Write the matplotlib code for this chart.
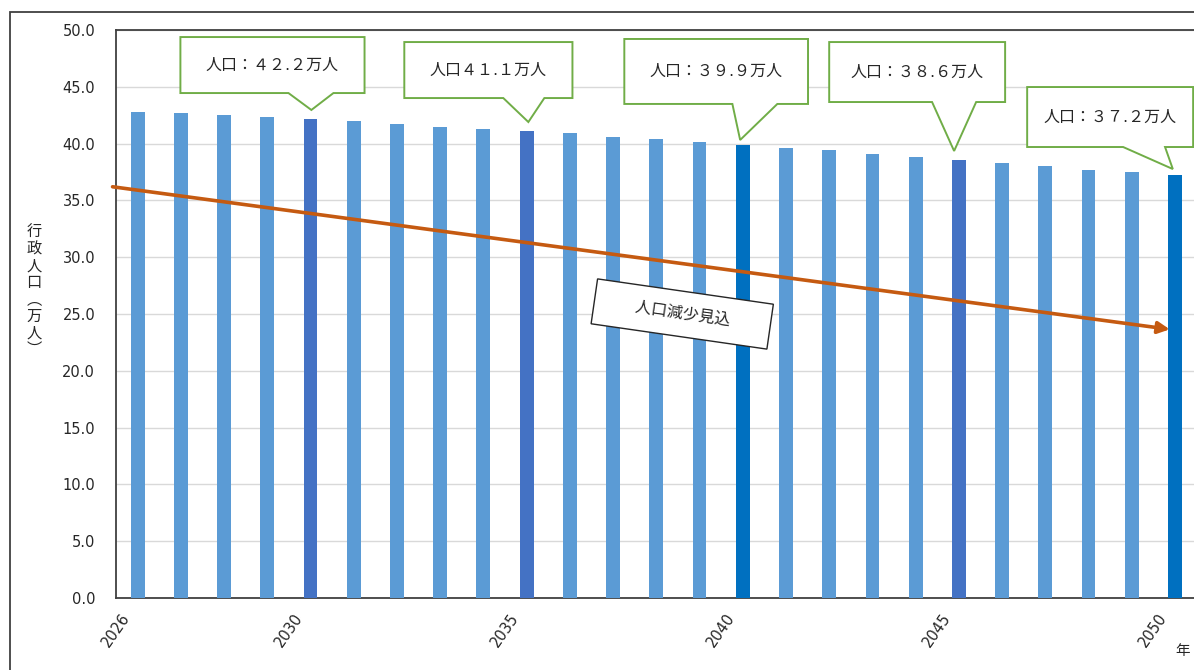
import matplotlib
matplotlib.use("Agg")
import numpy as np
import matplotlib.pyplot as plt
from matplotlib.patches import Polygon, Rectangle
from matplotlib.transforms import ScaledTranslation

# data
years = list(range(2026, 2051))
population = [42.8, 42.7, 42.5, 42.3, 42.2, 42.0, 41.7, 41.5, 41.3, 41.1,
              40.9, 40.6, 40.4, 40.1, 39.9, 39.6, 39.4, 39.1, 38.8, 38.6,
              38.3, 38.0, 37.7, 37.5, 37.2]
tick_years = [2026, 2030, 2035, 2040, 2045, 2050]
callout_years = [2030, 2035, 2040, 2045, 2050]
callout_labels = ["人口：４２.２万人", "人口４１.１万人", "人口：３９.９万人",
                  "人口：３８.６万人", "人口：３７.２万人"]
trend_label = "人口減少見込"
ylabel = "行政人口︵万人︶"
xunit = "年"

CJK = ["DejaVu Sans", "Noto Sans CJK JP"]
plt.rcParams["font.family"] = CJK

c_light = "#5B9BD5"
c_mid = "#4472C4"
c_dark = "#0070C0"
bar_colors = []
for y in years:
    if y in (2040, 2050):
        bar_colors.append(c_dark)
    elif y in (2030, 2035, 2045):
        bar_colors.append(c_mid)
    else:
        bar_colors.append(c_light)

fig = plt.figure(figsize=(11.94, 6.70), dpi=100)
ax = fig.add_axes([116 / 1194, 72 / 670, 1080.6 / 1194, 568 / 670])

x = np.arange(len(years))
ax.bar(x, population, width=0.32, color=bar_colors, zorder=3)

ax.set_xlim(-0.5, len(years) - 0.5)
ax.set_ylim(0, 50)
ax.set_yticks(np.arange(0, 50.1, 5))
ax.set_yticklabels([f"{v:.1f}" for v in np.arange(0, 50.1, 5)], fontsize=10.5, color="#262626")
ax.yaxis.grid(True, color="#D9D9D9", linewidth=1, zorder=0)
ax.tick_params(axis="y", length=0, pad=15)

ax.set_xticks([years.index(t) for t in tick_years])
ax.set_xticklabels([str(t) for t in tick_years], rotation=55, ha="right", va="center",
                   rotation_mode="anchor", fontsize=10.5, color="#262626")
ax.tick_params(axis="x", length=0, pad=12)
shift = ScaledTranslation(-0.11, 0, fig.dpi_scale_trans)
for lab in ax.get_xticklabels():
    lab.set_transform(lab.get_transform() + shift)

for s in ax.spines.values():
    s.set_color("#404040")
    s.set_linewidth(1.3)

# trend arrow
ax.annotate("", xy=(23.88, 23.65), xytext=(-0.58, 36.2),
            arrowprops=dict(arrowstyle="-|>,head_length=0.7,head_width=0.35",
                            color="#C55A11", lw=2.6, shrinkA=0, shrinkB=0),
            annotation_clip=False, zorder=6)

ax.text(12.6, 25.0, "     " + trend_label + "     ", rotation=-8.2, ha="center", va="center",
        rotation_mode="anchor", fontsize=11.5, color="#262626", zorder=7,
        bbox=dict(boxstyle="square,pad=0.95", facecolor="white", edgecolor="#262626", lw=1.0))

# callout boxes: (left, right, top, bottom, base1, base2, tip_x, tip_y)
boxes = [
    (0.99, 5.25, 49.38, 44.45, 3.49, 4.53, 4.02, 42.96),
    (6.17, 10.06, 48.94, 44.01, 8.46, 9.41, 9.04, 41.9),
    (11.26, 15.51, 49.21, 43.49, 13.76, 14.80, 13.94, 40.32),
    (16.0, 20.07, 48.94, 43.66, 18.38, 19.40, 18.89, 39.35),
    (20.58, 24.42, 44.98, 39.70, 22.80, 23.77, 23.95, 37.76),
]
for (l, r, t, b, p1, p2, tx, ty), lab in zip(boxes, callout_labels):
    pts = [(l, t), (r, t), (r, b), (p2, b), (tx, ty), (p1, b), (l, b)]
    ax.add_patch(Polygon(pts, closed=True, facecolor="white", edgecolor="#70AD47",
                         lw=1.4, zorder=8, clip_on=False))
    ax.text((l + r) / 2, (t + b) / 2, lab, ha="center", va="center",
            fontsize=11.5, color="#262626", zorder=9)

fig.text(34 / 1194, 1 - 291 / 670, "\n".join(ylabel), ha="center", va="center",
         fontsize=11, linespacing=0.98, color="#262626", family=["Noto Sans CJK JP", "DejaVu Sans"])
fig.text(1183 / 1194, 1 - 650 / 670, xunit, ha="center", va="center", fontsize=10.5, color="#262626")

# outer chart border
fig.add_artist(Rectangle((10 / 1194, -0.05), 1.2, 1 - 12 / 670 + 0.05, transform=fig.transFigure,
                         fill=False, edgecolor="#404040", lw=1.3))

fig.savefig("out.png", dpi=100)
